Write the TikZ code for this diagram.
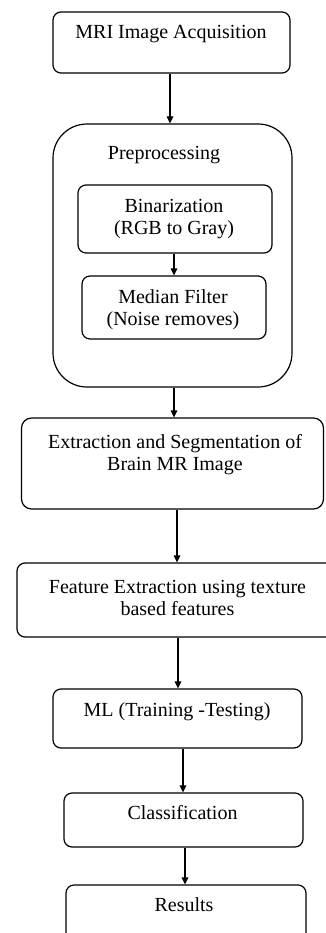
\documentclass[tikz,border=0pt]{standalone}
\usepackage{fontspec}
\setmainfont{Liberation Serif}
\usetikzlibrary{arrows.meta}
\newcommand{\twoline}[1]{\begin{tabular}[t]{@{}c@{}}#1\end{tabular}}
\begin{document}
\begin{tikzpicture}[x=1pt,y=-1pt,
  box/.style={draw=black, line width=1.2pt, rounded corners=8pt, inner sep=0pt},
  lbl/.style={anchor=base, inner sep=0pt, font=\fontsize{20}{22.5}\selectfont},
  arr/.style={draw=black, line width=1.2pt, -{Triangle[length=7pt,width=6.5pt]}}]
\useasboundingbox (0,0) rectangle (325,933);
% boxes
\node[box, minimum width=237pt, minimum height=61pt] (mri) at (171.5,42.5) {};
\node[box, rounded corners=34pt, minimum width=239pt, minimum height=263pt] (pre) at (172.5,255.5) {};
\node[box, minimum width=194pt, minimum height=68pt] (bin) at (175,219) {};
\node[box, minimum width=184pt, minimum height=63pt] (med) at (174,307.5) {};
\node[box, rounded corners=10pt, minimum width=302pt, minimum height=91pt] (ext) at (172.5,463.5) {};
\node[box, minimum width=320pt, minimum height=74pt] (feat) at (177,600) {};
\node[box, minimum width=249pt, minimum height=59pt] (ml) at (177.5,718.5) {};
\node[box, minimum width=239pt, minimum height=54pt] (cls) at (183.5,820) {};
\node[box, minimum width=240pt, minimum height=64pt] (res) at (186,917) {};
% texts
\node[lbl] (tmri) at (171,39) {MRI Image Acquisition};
\node[lbl] (tpre) at (164,160) {Preprocessing};
\node[lbl] (tbin) at (174,212) {\twoline{Binarization\\(RGB to Gray)}};
\node[lbl] (tmed) at (173,303) {\twoline{Median Filter\\(Noise removes)}};
\node[lbl] (text) at (175,448) {\twoline{Extraction and Segmentation of\\Brain MR Image}};
\node[lbl] (tfeat) at (177.5,593) {\twoline{Feature Extraction using texture\\based features}};
\node[lbl] (tml) at (177,716) {ML (Training -Testing)};
\node[lbl] (tcls) at (182.5,819) {Classification};
\node[lbl] (tres) at (184,911) {Results};
% connectors
\draw[arr] (170,0 |- mri.south) -- (170,0 |- pre.north);
\draw[arr] (174,0 |- bin.south) -- (174,0 |- med.north);
\draw[arr] (174,0 |- pre.south) -- (174,0 |- ext.north);
\draw[arr] (177,0 |- ext.south) -- (177,0 |- feat.north);
\draw[arr] (178,0 |- feat.south) -- (178,0 |- ml.north);
\draw[arr] (183,0 |- ml.south) -- (183,0 |- cls.north);
\draw[arr] (185,0 |- cls.south) -- (185,0 |- res.north);
\end{tikzpicture}
\end{document}
